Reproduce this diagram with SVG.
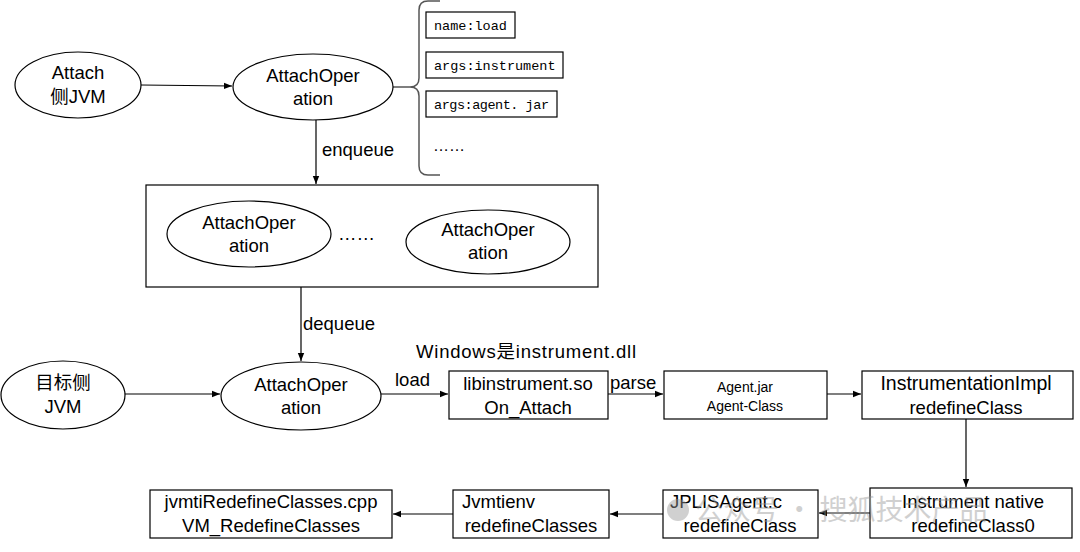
<svg xmlns="http://www.w3.org/2000/svg" width="1080" height="552" viewBox="0 0 1080 552">
<defs>
<marker id="arr" viewBox="0 0 10 10" refX="10" refY="5" markerWidth="8" markerHeight="8" markerUnits="userSpaceOnUse" orient="auto"><path d="M0,1 L10,5 L0,9 z" fill="#000"/></marker>
<style>
.s{fill:#fff;stroke:#000;stroke-width:1.2}
.t{font-family:"Liberation Sans","Noto Sans CJK SC",sans-serif;font-size:18.5px;fill:#000;text-anchor:middle}
.m{font-family:"Liberation Mono","Noto Sans CJK SC",monospace;font-size:13.5px;fill:#000}
.c{fill:none;stroke:#000;stroke-width:1.2;marker-end:url(#arr)}
.l{font-family:"Liberation Sans","Noto Sans CJK SC",sans-serif;font-size:18.5px;fill:#000}
</style>
</defs>
<rect width="1080" height="552" fill="#fff"/>
<g id="connectors">
<line class="c" x1="141" y1="85" x2="232" y2="86"/>
<line class="c" x1="316" y1="120" x2="316" y2="184"/>
<line class="c" x1="301" y1="287" x2="301" y2="361"/>
<line class="c" x1="125" y1="394" x2="220" y2="394"/>
<line class="c" x1="381" y1="394" x2="448" y2="394"/>
<line class="c" x1="608" y1="394" x2="663" y2="394"/>
<line class="c" x1="827" y1="394" x2="861" y2="394"/>
<line class="c" x1="966" y1="419" x2="966" y2="487"/>
<line class="c" x1="870" y1="513" x2="819" y2="513"/>
<line class="c" x1="663" y1="514" x2="610" y2="514"/>
<line class="c" x1="453" y1="514" x2="393" y2="514"/>
<path d="M393,87 L410,87 Q419,87 419,78 L419,10 Q419,1 428,1 L440,1 M410,87 Q419,87 419,96 L419,166 Q419,175 428,175 L440,175" fill="none" stroke="#555" stroke-width="1.5"/>
<text class="l" x="322" y="156">enqueue</text>
<text class="l" x="303" y="330">dequeue</text>
<text class="l" x="395" y="386">load</text>
<text class="l" x="610" y="389">parse</text>
<text class="l" x="416" y="358" textLength="220">Windows是instrument.dll</text>
</g>
<g id="attach-jvm"><ellipse class="s" cx="78" cy="85" rx="63" ry="33"/><text class="t" x="78" y="79">Attach</text><text class="t" x="78" y="103">侧JVM</text></g>
<g id="attachop-top"><ellipse class="s" cx="313" cy="87" rx="80" ry="33"/><text class="t" x="313" y="82">AttachOper</text><text class="t" x="313" y="105">ation</text></g>
<g id="arg-name"><rect class="s" x="426" y="12" width="89" height="26"/><text class="m" x="434" y="30">name:load</text></g>
<g id="arg-instrument"><rect class="s" x="426" y="52" width="137" height="26"/><text class="m" x="434" y="70">args:instrument</text></g>
<g id="arg-agent"><rect class="s" x="426" y="91" width="131" height="26"/><text class="m" x="434" y="109" textLength="115">args:agent. jar</text></g>
<text class="l" style="font-size:16px" x="433" y="151">……</text>
<g id="queue"><rect class="s" x="146" y="185" width="452" height="102"/>
<ellipse class="s" cx="249" cy="234" rx="82" ry="33"/><text class="t" x="249" y="229">AttachOper</text><text class="t" x="249" y="252">ation</text>
<text class="l" x="338" y="240">……</text>
<ellipse class="s" cx="488" cy="242" rx="82" ry="32"/><text class="t" x="488" y="236">AttachOper</text><text class="t" x="488" y="259">ation</text></g>
<g id="target-jvm"><ellipse class="s" cx="63" cy="395" rx="62" ry="34"/><text class="t" x="63" y="389">目标侧</text><text class="t" x="63" y="413">JVM</text></g>
<g id="attachop-bottom"><ellipse class="s" cx="301" cy="396" rx="80" ry="34"/><text class="t" x="301" y="391">AttachOper</text><text class="t" x="301" y="414">ation</text></g>
<g id="libinstrument"><rect class="s" x="449" y="371" width="159" height="48"/><text class="t" x="528" y="390">libinstrument.so</text><text class="t" x="528" y="414">On_Attach</text></g>
<g id="agentjar"><rect class="s" x="664" y="371" width="163" height="48"/><text class="t" style="font-size:14px" x="745" y="392">Agent.jar</text><text class="t" style="font-size:14px" x="745" y="411">Agent-Class</text></g>
<g id="instrimpl"><rect class="s" x="862" y="371" width="211" height="48"/><text class="t" style="font-size:19.5px" x="966" y="390">InstrumentationImpl</text><text class="t" x="966" y="414">redefineClass</text></g>
<g id="instrnative"><rect class="s" x="870" y="488" width="202" height="50"/><text class="t" x="973" y="508">Instrument native</text><text class="t" x="973" y="532">redefineClass0</text></g>
<g id="jplis"><rect class="s" x="663" y="490" width="155" height="48"/><text class="l" x="670" y="508">JPLISAgent.c</text><text class="t" x="740" y="532">redefineClass</text></g>
<g id="jvmtienv"><rect class="s" x="453" y="490" width="156" height="48"/><text class="l" x="462" y="508">Jvmtienv</text><text class="t" x="531" y="532">redefineClasses</text></g>
<g id="jvmtiredefine"><rect class="s" x="150" y="490" width="242" height="48"/><text class="t" x="271" y="508">jvmtiRedefineClasses.cpp</text><text class="t" x="271" y="532">VM_RedefineClasses</text></g>
<g id="watermark" opacity="0.45"><circle cx="678" cy="510" r="11" fill="#999"/><text x="695" y="520" style="font-family:'Noto Sans CJK SC',sans-serif;font-size:28px;fill:#999">公众号 · 搜狐技术产品</text></g>
</svg>
